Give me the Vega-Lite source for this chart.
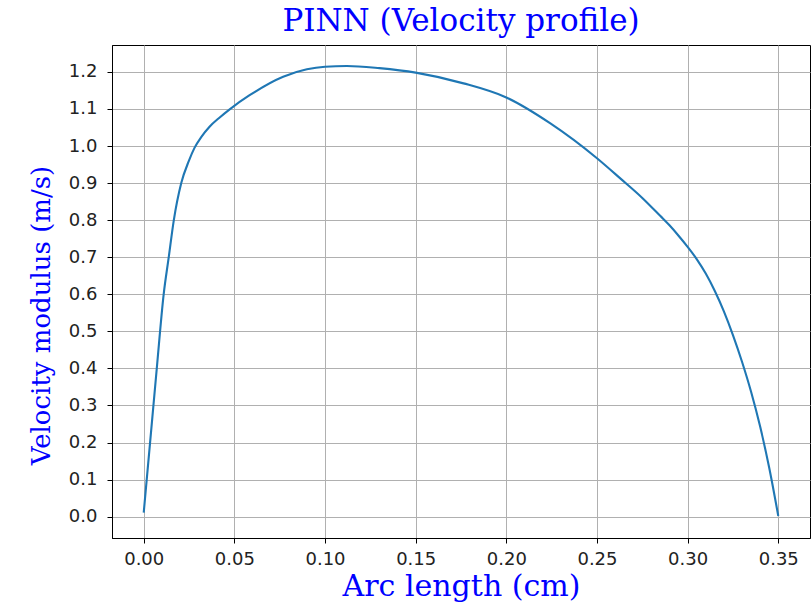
{
  "$schema": "https://vega.github.io/schema/vega-lite/v6.json",
  "autosize": "none",
  "width": 698,
  "height": 493,
  "padding": {"left": 112, "top": 45, "right": 1, "bottom": 69},
  "background": "white",
  "title": {
    "text": "PINN (Velocity profile)",
    "font": "DejaVu Serif",
    "fontSize": 31,
    "fontWeight": "normal",
    "color": "blue",
    "anchor": "middle",
    "offset": 7
  },
  "data": {
    "values": [
      {"s": 0.0, "v": 0.011},
      {"s": 0.0035, "v": 0.2},
      {"s": 0.0072, "v": 0.4},
      {"s": 0.011, "v": 0.6},
      {"s": 0.0138, "v": 0.7},
      {"s": 0.0166, "v": 0.8},
      {"s": 0.0207, "v": 0.9},
      {"s": 0.0249, "v": 0.96},
      {"s": 0.028, "v": 0.995},
      {"s": 0.0317, "v": 1.024},
      {"s": 0.0363, "v": 1.052},
      {"s": 0.0419, "v": 1.077},
      {"s": 0.0474, "v": 1.099},
      {"s": 0.0584, "v": 1.137},
      {"s": 0.0769, "v": 1.187},
      {"s": 0.09, "v": 1.207},
      {"s": 0.1, "v": 1.214},
      {"s": 0.112, "v": 1.216},
      {"s": 0.13, "v": 1.21},
      {"s": 0.15, "v": 1.198},
      {"s": 0.1764, "v": 1.169},
      {"s": 0.2, "v": 1.131},
      {"s": 0.2243, "v": 1.061},
      {"s": 0.25, "v": 0.967},
      {"s": 0.263, "v": 0.912},
      {"s": 0.275, "v": 0.86},
      {"s": 0.285, "v": 0.811},
      {"s": 0.29, "v": 0.786},
      {"s": 0.295, "v": 0.758},
      {"s": 0.3, "v": 0.728},
      {"s": 0.305, "v": 0.695},
      {"s": 0.31, "v": 0.656},
      {"s": 0.315, "v": 0.609},
      {"s": 0.32, "v": 0.554},
      {"s": 0.325, "v": 0.49},
      {"s": 0.33, "v": 0.418},
      {"s": 0.335, "v": 0.337},
      {"s": 0.34, "v": 0.243},
      {"s": 0.345, "v": 0.132},
      {"s": 0.35, "v": 0.002}
    ]
  },
  "mark": {"type": "line", "color": "#1f77b4", "strokeWidth": 2.1, "interpolate": "monotone", "clip": true},
  "encoding": {
    "x": {
      "field": "s",
      "type": "quantitative",
      "scale": {"domain": [-0.0175, 0.3675], "nice": false, "zero": false},
      "axis": {
        "title": "Arc length (cm)",
        "values": [0, 0.05, 0.1, 0.15, 0.2, 0.25, 0.3, 0.35],
        "format": ".2f",
        "labelPadding": 7,
        "titleFont": "DejaVu Serif",
        "titleFontSize": 30,
        "titleFontWeight": "normal",
        "titleColor": "blue",
        "titlePadding": 3
      }
    },
    "y": {
      "field": "v",
      "type": "quantitative",
      "scale": {"domain": [-0.0575, 1.2725], "nice": false, "zero": false},
      "axis": {
        "title": "Velocity modulus (m/s)",
        "values": [0, 0.1, 0.2, 0.3, 0.4, 0.5, 0.6, 0.7, 0.8, 0.9, 1.0, 1.1, 1.2],
        "format": ".1f",
        "labelPadding": 10,
        "titleFont": "DejaVu Serif",
        "titleFontSize": 26,
        "titleFontWeight": "normal",
        "titleColor": "blue",
        "titlePadding": 14,
        "titleY": 270
      }
    }
  },
  "config": {
    "view": {"stroke": "black", "strokeWidth": 1},
    "axis": {
      "domainColor": "black",
      "domainWidth": 1,
      "tickColor": "black",
      "tickSize": 5,
      "tickWidth": 1,
      "labelFont": "DejaVu Sans",
      "labelFontSize": 18,
      "labelColor": "#222222",
      "grid": true,
      "gridColor": "#b0b0b0",
      "gridWidth": 1
    }
  }
}
